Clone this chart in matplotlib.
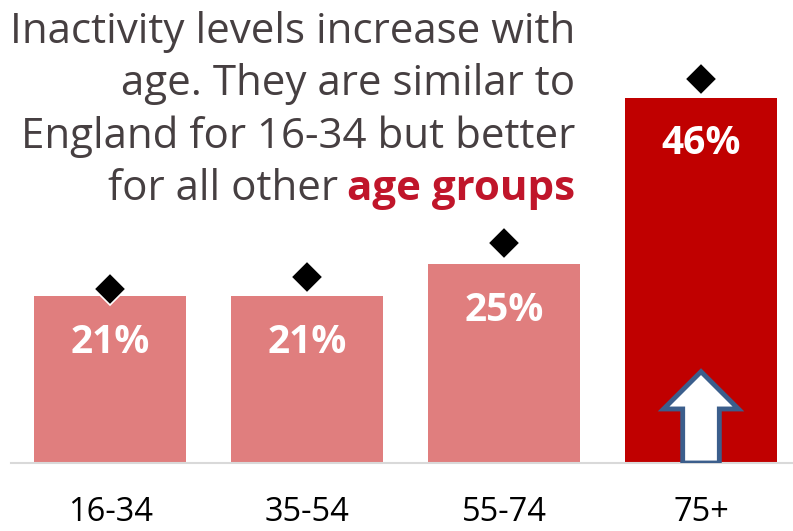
import matplotlib
matplotlib.use("Agg")
import matplotlib.pyplot as plt
from matplotlib.patches import Polygon

plt.rcParams['font.family'] = ['Open Sans', 'DejaVu Sans']

# Inactivity by age group (local) and England comparison
age_groups = ['16-34', '35-54', '55-74', '75+']
local_pct = [21, 21, 25, 46]
england_pct = [21.9, 23.4, 27.7, 48.3]
bar_colors = ['#E07E7E', '#E07E7E', '#E07E7E', '#C00000']

fig = plt.figure(figsize=(7.93, 5.31), dpi=100)
ax = fig.add_axes([11 / 793, 68 / 531, 1 - 11 / 793, 437 / 531])

x = list(range(len(age_groups)))
ax.bar(x, local_pct, width=0.77, color=bar_colors, zorder=2)

for xi, v in zip(x, local_pct):
    ax.text(xi, v - 5.8, f'{v}%', ha='center', va='center', color='white',
            fontsize=28, fontweight='bold', zorder=4)

ax.plot(x, england_pct, linestyle='none', marker='D', markersize=16,
        color='black', markeredgecolor='white', markeredgewidth=1.2, zorder=3)

# upward arrow on the oldest group
cx = x[-1]
hw, sw = 0.19, 0.093
ah, hb = 11.5, 6.8
arrow = Polygon([(cx - sw, 0), (cx + sw, 0), (cx + sw, hb), (cx + hw, hb),
                 (cx, ah), (cx - hw, hb), (cx - sw, hb)], closed=True,
                facecolor='white', edgecolor='#3B5E8C', linewidth=3.5,
                joinstyle='miter', zorder=5)
ax.add_patch(arrow)

ax.set_xlim(-0.503, 3.467)
ax.set_ylim(0, 55)
for s in ['top', 'right', 'left']:
    ax.spines[s].set_visible(False)
ax.spines['bottom'].set_color('#D9D9D9')
ax.spines['bottom'].set_linewidth(1.5)
ax.set_yticks([])
ax.set_xticks(x)
ax.set_xticklabels(age_groups, fontsize=23.5, color='black')
ax.tick_params(axis='x', length=0, pad=24)

# headline text, right-aligned
title_color = '#463F41'
title_size = 30.3
lines = ['Inactivity levels increase with', 'age. They are similar to',
         'England for 16-34 but better']
ys = [499, 447, 394]
for line, yy in zip(lines, ys):
    fig.text(575 / 793, yy / 531, line, ha='right', va='center',
             fontsize=title_size, color=title_color)
red = fig.text(575 / 793, 342 / 531, 'age groups', ha='right', va='center',
               fontsize=title_size, fontweight='bold', color='#C0152A')
fig.canvas.draw()
bb = red.get_window_extent()
fig.text((bb.x0 - 9) / fig.bbox.width, 342 / 531, 'for all other',
         ha='right', va='center', fontsize=title_size, color=title_color)

fig.savefig('out.png', dpi=100)
